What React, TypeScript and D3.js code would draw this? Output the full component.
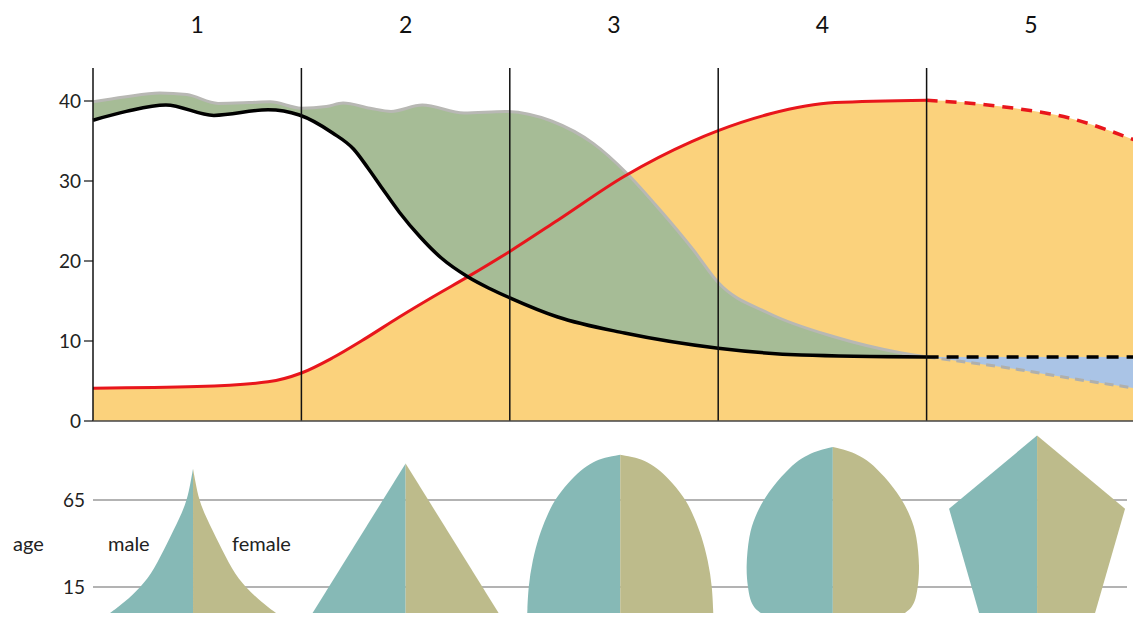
import React from 'react';
import * as d3 from 'd3';

// stage units on x (0..5), rate per 1000 on y
const stages = ['1', '2', '3', '4', '5'];
const rateTicks = [0, 10, 20, 30, 40];
const ageTicks = [15, 65];

const birthRate: [number, number][] = [
  [0, 39.9], [0.15, 40.5], [0.32, 41], [0.45, 40.8], [0.6, 39.7], [0.75, 39.8], [0.85, 39.9],
  [1.0, 39.1], [1.12, 39.3], [1.2, 39.75], [1.33, 39.1], [1.43, 38.7], [1.58, 39.5], [1.78, 38.5],
  [1.98, 38.7], [2.2, 37.5], [2.4, 34.7], [2.56, 31], [2.72, 26.4], [2.88, 21.4], [3.0, 17.3],
  [3.24, 13.5], [3.56, 10.5], [3.88, 8.5], [4.0, 8],
];
const birthProjected: [number, number][] = [[4, 8], [4.4, 6.6], [4.7, 5.3], [5, 4.1]];

const deathRate: [number, number][] = [
  [0, 37.6], [0.16, 38.7], [0.35, 39.5], [0.58, 38.2], [0.84, 38.9], [0.99, 38.25], [1.15, 36],
  [1.25, 34], [1.32, 31.6], [1.39, 29], [1.47, 26.1], [1.57, 23], [1.67, 20.4], [1.8, 18],
  [1.9, 16.6], [2.0, 15.4], [2.23, 13], [2.55, 11], [3.0, 9.1], [3.4, 8.25], [4.0, 8],
];
const deathProjected: [number, number][] = [[4, 8], [4.5, 8], [5, 8]];

const population: [number, number][] = [
  [0, 4.1], [0.5, 4.3], [0.84, 4.9], [1.0, 6], [1.15, 7.9], [1.3, 10.2], [1.47, 13], [1.63, 15.5],
  [1.81, 18.2], [2.0, 21.2], [2.23, 25.1], [2.55, 30.6], [2.87, 34.9], [3.0, 36.3], [3.25, 38.4],
  [3.56, 39.8], [4.0, 40.1],
];
const populationProjected: [number, number][] = [[4, 40.1], [4.36, 39.3], [4.68, 37.9], [5, 35.1]];

// population pyramids: [age, half width]
const pyramidCenters = [0.48, 1.5, 2.53, 3.55, 4.53];
const pyramids: [number, number][][] = [
  [[0, 8.3], [6, 6.9], [15, 5.2], [25, 3.9], [40, 2.6], [55, 1.3], [65, 0.6], [75, 0.25], [83, 0]],
  [[0, 9.3], [86, 0]],
  [[0, 9.3], [15, 9.2], [30, 8.8], [45, 8.1], [55, 7.4], [65, 6.6], [75, 5.2], [82, 4.0], [87, 2.7], [89.5, 1.6], [91, 0]],
  [[0, 7.2], [3, 7.9], [8, 8.3], [15, 8.5], [26, 8.7], [45, 8.4], [55, 7.8], [66, 6.9], [79, 5.1], [87, 3.7], [91, 2.5], [93.5, 1.4], [95.5, 0]],
  [[0, 5.8], [60, 8.8], [102, 0]],
];

const W = 1133;
const H = 618;
const font = 'Lato, "Open Sans", sans-serif';

export default function App() {
  const x = d3.scaleLinear().domain([0, 5]).range([93, 1135]);
  const y = d3.scaleLinear().domain([0, 40]).range([421, 101]);
  const ageY = d3.scaleLinear().domain([15, 65]).range([587, 500]);
  const wScale = d3.scaleLinear().domain([0, 1]).range([0, 10]);

  const curve = d3.curveMonotoneX;
  const line = d3.line<[number, number]>().x(d => x(d[0])).y(d => y(d[1])).curve(curve);
  const under = d3.area<[number, number]>().x(d => x(d[0])).y0(y(0)).y1(d => y(d[1])).curve(curve);
  const over = d3.area<[number, number]>().x(d => x(d[0])).y0(y(46)).y1(d => y(d[1])).curve(curve);

  const popAll = population.concat(populationProjected.slice(1));

  const pyrCurve = [d3.curveBasis, d3.curveLinear, d3.curveBasis, d3.curveBasis, d3.curveLinear];
  const halves = pyramids.map((p, i) => {
    const cx = x(pyramidCenters[i]);
    const male = d3.area<[number, number]>().y(d => ageY(d[0]))
      .x0(d => cx - wScale(d[1])).x1(cx).curve(pyrCurve[i])(p) as string;
    const female = d3.area<[number, number]>().y(d => ageY(d[0]))
      .x0(cx).x1(d => cx + wScale(d[1])).curve(pyrCurve[i])(p) as string;
    return { male, female };
  });

  return (
    <svg width={W} height={H} style={{ position: 'absolute', left: 0, top: 0, fontFamily: font }}>
      <defs>
        <clipPath id="aboveDeath"><path d={over(deathRate) as string} /></clipPath>
        <clipPath id="aboveBirthProj"><path d={over(birthProjected) as string} /></clipPath>
      </defs>
      <rect width={W} height={H} fill="#fff" />

      {/* stage numbers */}
      {stages.map((s, i) => (
        <text key={s} x={x(i + 0.5)} y={33} textAnchor="middle" fontSize={23} fill="#111">{s}</text>
      ))}

      {/* fills */}
      <path d={under(popAll) as string} fill="#fbd27c" />
      <path d={under(birthRate) as string} fill="#a6bc96" clipPath="url(#aboveDeath)" />
      <path d={under(deathProjected) as string} fill="#aac4e6" clipPath="url(#aboveBirthProj)" />

      {/* lines */}
      <path d={line(birthRate) as string} fill="none" stroke="#b8b8b4" strokeWidth={3} />
      <path d={line(birthProjected) as string} fill="none" stroke="#b0b0ac" strokeWidth={3} strokeDasharray="9 6" />
      <path d={line(population) as string} fill="none" stroke="#e8161c" strokeWidth={3} />
      <path d={line(populationProjected) as string} fill="none" stroke="#e8161c" strokeWidth={3.5} strokeDasharray="11 8" />
      <path d={line(deathRate) as string} fill="none" stroke="#000" strokeWidth={3.5} />
      <path d={line(deathProjected) as string} fill="none" stroke="#000" strokeWidth={3.5} strokeDasharray="12 8" />

      {/* stage boundaries */}
      {[1, 2, 3, 4].map(t => (
        <line key={t} x1={x(t)} x2={x(t)} y1={68} y2={y(0)} stroke="#111" strokeWidth={1.5} />
      ))}

      {/* axes */}
      <line x1={x(0)} x2={x(0)} y1={68} y2={y(0)} stroke="#111" strokeWidth={1.5} />
      <line x1={x(0)} x2={W} y1={y(0)} y2={y(0)} stroke="#444" strokeWidth={1.5} />
      {rateTicks.map(t => (
        <g key={t} transform={`translate(0,${y(t)})`}>
          <line x1={84} x2={x(0)} stroke="#111" strokeWidth={1.2} />
          <text x={81} dy="0.35em" textAnchor="end" fontSize={19} fill="#222">{t}</text>
        </g>
      ))}

      {/* age guides */}
      {ageTicks.map(a => (
        <g key={a} transform={`translate(0,${ageY(a)})`}>
          <line x1={x(0)} x2={1127} stroke="#9a9a9a" strokeWidth={1.5} />
          <text x={85} dy="0.35em" textAnchor="end" fontSize={19} fill="#222">{a}</text>
        </g>
      ))}
      <text x={13} y={ageY(40)} dy="0.35em" fontSize={20} fill="#222">age</text>

      {/* pyramids */}
      {halves.map((h, i) => (
        <g key={i}>
          <path d={h.male} fill="#86b9b6" />
          <path d={h.female} fill="#bdbb8b" />
        </g>
      ))}
      <text x={108} y={ageY(40)} dy="0.35em" fontSize={20} fill="#222">male</text>
      <text x={232} y={ageY(40)} dy="0.35em" fontSize={20} fill="#222">female</text>
    </svg>
  );
}
